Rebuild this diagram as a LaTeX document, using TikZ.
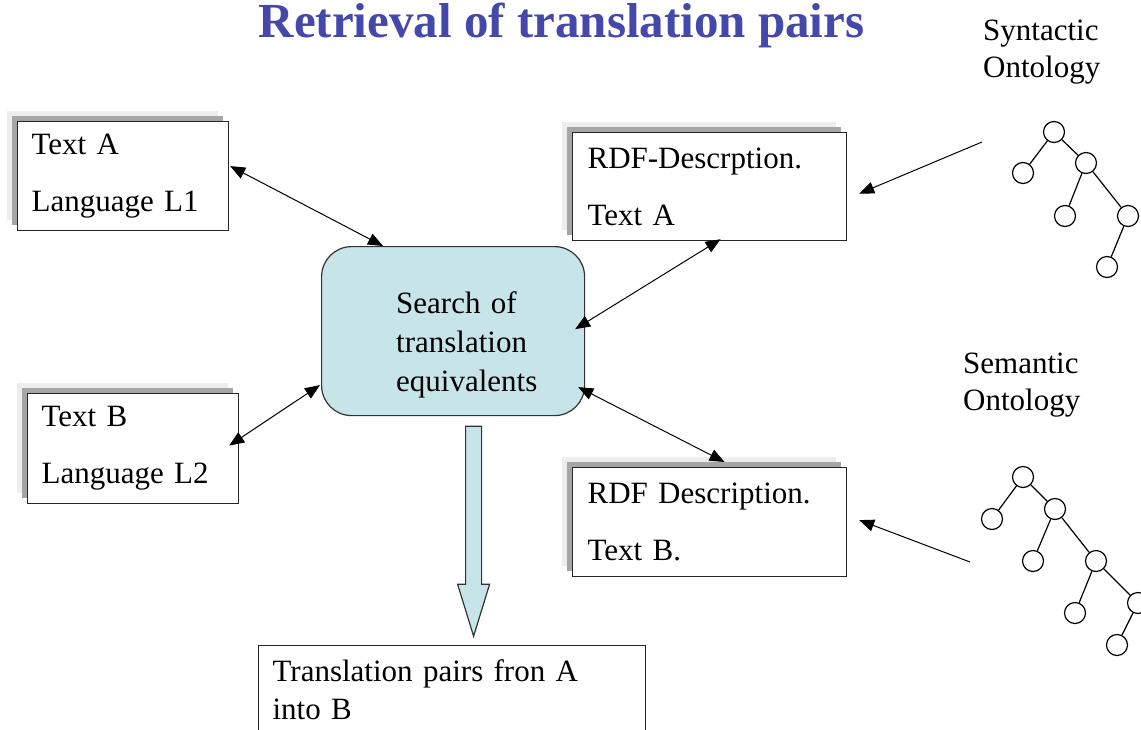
\documentclass[tikz,border=0pt]{standalone}
\usepackage{fontspec}
\setmainfont{Liberation Serif}
\usepackage{tikz}
\definecolor{titleblue}{RGB}{68,72,170}
\definecolor{searchbg}{RGB}{199,228,232}
\colorlet{shadowdark}{black!35}
\colorlet{shadowlight}{black!7}
\usetikzlibrary{arrows.meta, positioning, shadows}
\tikzstyle{textbox} = [draw=black!85, fill=white, line width=1.2pt, rectangle,
    anchor=north west, align=left, inner xsep=14pt, inner ysep=0pt,
    font=\fontsize{31}{57}\selectfont,
    general shadow={shadow xshift=-11pt, shadow yshift=11pt, fill=shadowlight},
    general shadow={shadow xshift=-6pt, shadow yshift=6pt, fill=shadowdark}]
\tikzstyle{plainbox} = [draw=black!85, fill=white, line width=1.2pt, rectangle,
    anchor=north west, align=left, inner xsep=14pt, inner ysep=14pt,
    font=\fontsize{31}{38}\selectfont]
\tikzstyle{roundbox} = [draw=black!80, fill=searchbg, line width=1.2pt,
    rounded corners=30pt, anchor=north west, minimum width=263pt,
    minimum height=169pt]
\tikzstyle{plaintext} = [align=left, inner sep=0pt,
    font=\fontsize{31}{37}\selectfont]
\tikzstyle{onode} = [draw, circle, line width=1.2pt, minimum size=21pt,
    inner sep=0pt]
\tikzstyle{link} = [arrows=<->, black, line width=1pt]
\tikzstyle{feed} = [arrows=->, black, line width=1pt]
\tikzstyle{bigarrow} = [draw=black!80, fill=searchbg, line width=1.2pt]

\begin{document}
\begin{tikzpicture}[x=1pt, y=-1pt, >={Triangle[length=15pt,width=12pt]}]
  \useasboundingbox (0,0) rectangle (1141,729);
  \clip (0,0) rectangle (1141,729);

  % Title
  \node [anchor=base, inner sep=0pt, text=titleblue,
    font=\fontsize{49}{55}\selectfont\bfseries] (title) at (561.5,37)
    {Retrieval of translation pairs};

  % Place the blocks
  \node [textbox, text width=183pt, minimum height=109pt] (textA) at (17,121)
    {Text A\\Language L1};
  \node [textbox, text width=183pt, minimum height=110pt] (textB) at (27,393)
    {Text B\\Language L2};
  \node [textbox, text width=244pt, inner xsep=15pt, minimum height=108pt]
    (rdfA) at (572,132) {RDF-Descrption.\\Text A};
  \node [textbox, text width=244pt, inner xsep=15pt, minimum height=109pt]
    (rdfB) at (572,467) {RDF Description.\\Text B.};
  \node [roundbox] (search) at (321,246) {};
  \node [plaintext, text width=160pt, right=75pt of search.west, yshift=-14pt,
    font=\fontsize{31}{39}\selectfont] (searchtext)
    {Search of\\translation\\equivalents};
  \node [plainbox, text width=359pt, text depth=70pt] (result) at (258,645)
    {Translation pairs fron A\\into B};

  % Ontologies
  \node [plaintext, anchor=north west] (synlabel) at (983,20)
    {Syntactic\\Ontology};
  \node [plaintext, anchor=north west] (semlabel) at (963,353)
    {Semantic\\Ontology};

  \node [onode] (s0) at (1054,132) {};
  \node [onode] (s1) at (1023,173) {};
  \node [onode] (s2) at (1086,163) {};
  \node [onode] (s3) at (1065,216) {};
  \node [onode] (s4) at (1128,216) {};
  \node [onode] (s5) at (1107,267) {};
  \foreach \a/\b in {s0/s1, s0/s2, s2/s3, s2/s4, s4/s5}
    \draw [line width=1.2pt] (\a) -- (\b);

  \node [onode] (m0) at (1023,477) {};
  \node [onode] (m1) at (992,519) {};
  \node [onode] (m2) at (1055,509) {};
  \node [onode] (m3) at (1033,561) {};
  \node [onode] (m4) at (1096,561) {};
  \node [onode] (m5) at (1075,613) {};
  \node [onode] (m6) at (1138,603) {};
  \node [onode] (m7) at (1117,645) {};
  \foreach \a/\b in {m0/m1, m0/m2, m2/m3, m2/m4, m4/m5, m4/m6, m6/m7}
    \draw [line width=1.2pt] (\a) -- (\b);

  \coordinate (synfoot) at (982,142);
  \coordinate (semfoot) at (970,562);

  % Connect the nodes
  \draw [link] ([xshift=1pt,yshift=10pt]textA.east)
    -- ([xshift=62pt]search.north west);
  \draw [link] ([xshift=11pt,yshift=2pt]rdfA.south)
    -- ([xshift=-10pt,yshift=2pt]search.east);
  \draw [link] ([xshift=-10pt,yshift=3pt]textB.east)
    -- ([xshift=-1pt,yshift=-54pt]search.west);
  \draw [link] ([xshift=-7pt,yshift=-56pt]search.east)
    -- ([xshift=15pt,yshift=5pt]rdfB.north);
  \draw [feed] (synfoot) -- ([xshift=12pt,yshift=-7pt]rdfA.east);
  \draw [feed] (semfoot) -- ([xshift=12pt,yshift=2pt]rdfB.east);
  \draw [bigarrow] ([xshift=12.5pt,yshift=-10pt]search.south) -- ++(16,0)
    -- ++(0,158) -- ++(8,0) -- ++(-16,52) -- ++(-16,-52) -- ++(8,0) -- cycle;
\end{tikzpicture}
\end{document}
